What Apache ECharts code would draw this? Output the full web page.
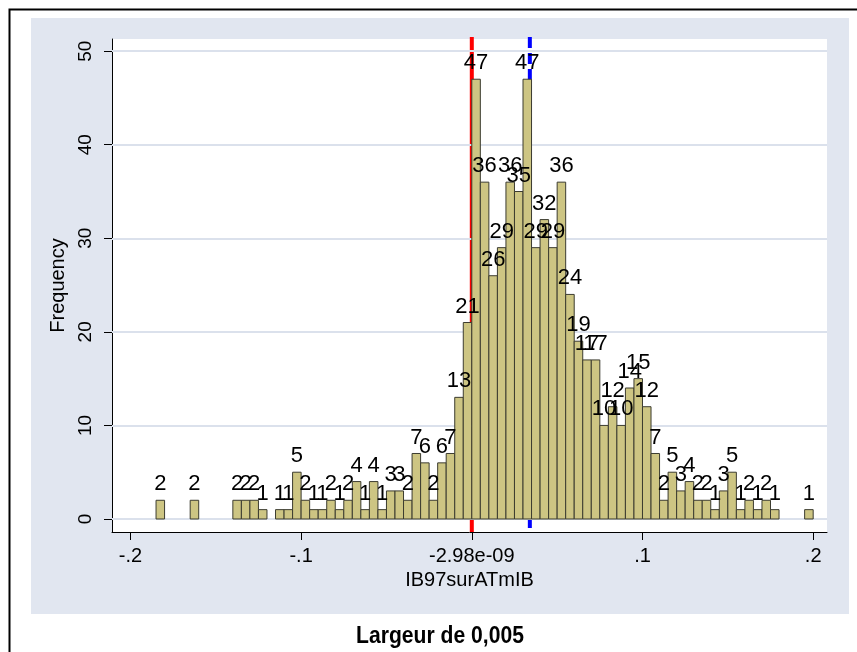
<!DOCTYPE html>
<html>
<head>
<meta charset="utf-8">
<script src="https://cdn.jsdelivr.net/npm/echarts@6/dist/echarts.min.js"></script>
<style>
html,body{margin:0;padding:0;background:#fff;}
#chart{width:857px;height:652px;}
</style>
</head>
<body>
<div id="chart"></div>
<script>
// ---- data ----
const binStart = -0.185;
const binWidth = 0.005;
const counts = [
  2, 0, 0, 0, 2, 0, 0, 0, 0, 2,
  2, 2, 1, 0, 1, 1, 5, 2, 1, 1,
  2, 1, 2, 4, 1, 4, 1, 3, 3, 2,
  7, 6, 2, 6, 7, 13, 21, 47, 36, 26,
  29, 36, 35, 47, 29, 32, 29, 36, 24, 19,
  17, 17, 10, 12, 10, 14, 15, 12, 7, 2,
  5, 3, 4, 2, 2, 1, 3, 5, 1, 2,
  1, 2, 1, 0, 0, 0, 1
];
const xTickValues = [-0.2, -0.1, 0, 0.1, 0.2];
const xTickLabels = ['-.2', '-.1', '-2.98e-09', '.1', '.2'];
const yTickValues = [0, 10, 20, 30, 40, 50];
const meanValue = -2.98e-09;
const medianValue = 0.034;
const refLines = [
  {value: meanValue, color: '#ff0000', dash: null},
  {value: medianValue, color: '#0000ff', dash: [11, 5]}
];
const xTitle = 'IB97surATmIB';
const yTitle = 'Frequency';
const noteText = 'Largeur de 0,005';

// ---- build ----
const barData = [];
counts.forEach((c, k) => {
  if (c > 0) barData.push([binStart + k * binWidth, binStart + (k + 1) * binWidth, c]);
});

const font = 'Liberation Sans, Arial, sans-serif';
const chart = echarts.init(document.getElementById('chart'), null, {renderer: 'canvas'});

chart.setOption({
  animation: false,
  backgroundColor: '#ffffff',
  graphic: [
    {type: 'rect', z: -10, shape: {x: 31, y: 18, width: 818, height: 596}, style: {fill: '#e1e6f0'}},
    {type: 'rect', z: -9, shape: {x: 9.5, y: 9.5, width: 900, height: 700}, style: {fill: 'none', stroke: '#000', lineWidth: 2}},
    {type: 'text', z: 10, x: 440, y: 636, scaleX: 0.88,
      style: {text: noteText, x: 0, y: 0, align: 'center', verticalAlign: 'middle',
        font: 'bold 24px "Liberation Sans", Arial, sans-serif', fill: '#000'}}
  ],
  grid: {left: 112, top: 39, width: 715, height: 493, show: true, backgroundColor: '#ffffff', borderWidth: 0},
  xAxis: {
    type: 'value', min: -0.2108, max: 0.2081,
    name: xTitle, nameLocation: 'middle', nameGap: 33,
    nameTextStyle: {fontFamily: font, fontSize: 20, color: '#000'},
    axisLine: {show: true, onZero: false, lineStyle: {color: '#000', width: 1}},
    axisTick: {show: true, length: 8, customValues: xTickValues, lineStyle: {color: '#000', width: 1}},
    axisLabel: {show: true, customValues: xTickValues, margin: 14, fontFamily: font, fontSize: 20, color: '#000',
      formatter: function (v) {
        let best = 0, bd = Infinity;
        xTickValues.forEach((t, i) => { const d = Math.abs(t - v); if (d < bd) { bd = d; best = i; } });
        return xTickLabels[best];
      }},
    splitLine: {show: false}
  },
  yAxis: {
    type: 'value', min: -1.39, max: 51.3,
    name: yTitle, nameLocation: 'middle', nameGap: 37,
    nameTextStyle: {fontFamily: font, fontSize: 20, color: '#000'},
    axisLine: {show: true, onZero: false, lineStyle: {color: '#000', width: 1}},
    axisTick: {show: true, length: 8, customValues: yTickValues, lineStyle: {color: '#000', width: 1}},
    axisLabel: {show: true, customValues: yTickValues, rotate: 90, margin: 17, fontFamily: font, fontSize: 19, color: '#000',
      formatter: v => String(Math.round(v))},
    splitLine: {show: false}
  },
  series: [
    {
      type: 'line', data: [], z: 1, silent: true,
      markLine: {
        silent: true, symbol: ['none', 'none'], label: {show: false},
        lineStyle: {color: '#dbe1ec', width: 2, type: 'solid'},
        data: yTickValues.map(v => ({yAxis: v}))
      }
    },
    {
      type: 'custom', z: 2, silent: true, data: refLines.map(r => [r.value]),
      renderItem: function (params, api) {
        const r = refLines[params.dataIndex];
        const cs = params.coordSys;
        const px = api.coord([api.value(0), 0])[0];
        return {
          type: 'line',
          shape: {x1: px, y1: cs.y - 2, x2: px, y2: cs.y + cs.height},
          style: {stroke: r.color, lineWidth: 4, lineDash: r.dash}
        };
      }
    },
    {
      type: 'custom', z: 5, data: barData,
      renderItem: function (params, api) {
        const x0 = api.value(0), x1 = api.value(1), c = api.value(2);
        const p0 = api.coord([x0, c]);
        const p1 = api.coord([x1, 0]);
        return {
          type: 'group',
          children: [
            {type: 'rect', shape: {x: p0[0], y: p0[1], width: p1[0] - p0[0], height: p1[1] - p0[1]},
              style: {fill: '#cdc583', stroke: '#3c3c30', lineWidth: 1}},
            {type: 'text', z2: 10, style: {text: String(c), x: (p0[0] + p1[0]) / 2, y: p0[1] - 5,
              align: 'center', verticalAlign: 'bottom', font: '22px ' + font, fill: '#000'}}
          ]
        };
      }
    }
  ]
});
</script>
</body>
</html>
